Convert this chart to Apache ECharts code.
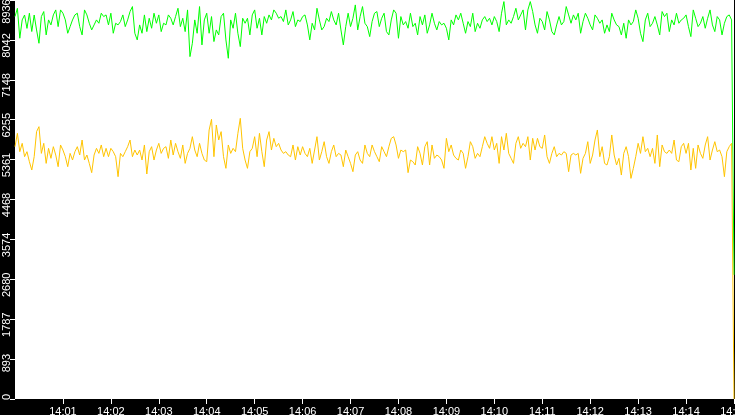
<!DOCTYPE html>
<html>
<head>
<meta charset="utf-8">
<script src="https://cdn.jsdelivr.net/npm/echarts@6.0.0/dist/echarts.min.js"></script>
<style>
html,body{margin:0;padding:0;background:#000;}
#chart{width:735px;height:415px;}
</style>
</head>
<body>
<div id="chart"></div>
<script>
// sample spacing in seconds from 14:00:00
var STEP = 3;
var xTickSeconds = [60,120,180,240,300,360,420,480,540,600,660,720,780,840,900];
var yMax = 8936;
var yInterval = 893.6;

var greenValues = [
8565,8750,8080,8490,8600,8300,8640,8230,8600,8265,
7967,8565,8677,8154,8490,8378,8602,8714,8340,8714,
8640,8490,8191,8340,8490,8602,8640,8340,8154,8714,
8602,8415,8266,8378,8490,8415,8640,8565,8602,8378,
8640,8191,8415,8378,8453,8602,8340,8490,8677,8789,
8191,8042,8378,8191,8602,8228,8527,8303,8640,8415,
8602,8228,8415,8378,8602,8527,8378,8565,8751,8340,
8527,8228,8714,7668,7967,8490,8191,8789,7930,8490,
8640,8191,8565,8005,8266,8154,8565,8640,8042,7631,
8490,8303,8640,8191,7892,8527,8415,8527,8154,8602,
8714,8303,8527,8154,8565,8415,8602,8490,8714,8640,
8527,8565,8453,8714,8378,8490,8677,8340,8490,8453,
8565,8602,8378,8042,8415,8266,8751,8490,8266,8340,
8527,8453,8677,8490,8378,8640,8266,7930,8340,8640,
8340,8527,8826,8266,8565,8789,8415,8340,8116,8453,
8640,8677,8340,8527,8640,8228,8154,8490,8714,8640,
8079,8565,8378,8453,8303,8640,8340,8415,8154,8565,
8378,8602,8191,8378,8640,8415,8266,8453,8378,8415,
8303,8042,8490,8378,8602,8490,8640,8415,8191,8453,
8340,8640,8228,8415,8303,8490,8565,8453,8527,8378,
8565,8453,8228,8640,8900,8378,8490,8415,8565,8751,
8490,8602,8714,8266,8714,8900,8677,8378,8191,8527,
8453,8266,8677,8490,8228,8154,8378,8565,8378,8453,
8789,8602,8415,8602,8490,8640,8191,8453,8640,8527,
8378,8266,8602,8527,8415,8490,8191,8378,8228,8640,
8490,8378,8340,8154,8415,8079,8490,8378,8453,8714,
8527,8191,8004,8490,8640,8340,8415,8565,8378,8154,
8677,8565,8640,8228,8490,8378,8640,8415,8490,8527,
8602,8340,8116,8714,8527,8340,8415,8565,8303,8527,
8714,8378,8228,8565,8490,8154,8415,8565,8602,8490,
2780
];

var yellowValues = [
5651,5950,5539,5726,5427,5539,5315,5128,5427,5988,
6099,5501,5726,5277,5614,5390,5651,5464,5203,5689,
5576,5427,5203,5501,5352,5539,5651,5464,5800,5352,
5464,5277,5069,5464,5614,5501,5689,5427,5614,5427,
5614,5539,5427,4979,5501,5427,5539,5651,5800,5427,
5576,5464,5576,5352,5689,5039,5539,5651,5352,5576,
5726,5501,5614,5651,5390,5800,5464,5726,5539,5390,
5689,5277,5501,5614,5875,5576,5427,5726,5501,5352,
5315,6025,6264,5427,6137,5800,5988,5427,5166,5689,
5501,5614,5539,5950,6286,5614,5352,5166,5539,5614,
5875,5427,5950,5539,5203,5800,5988,5576,5838,5651,
5726,5576,5501,5539,5464,5427,5689,5352,5651,5464,
5651,5501,5427,5614,5277,5576,5875,5352,5539,5763,
5427,5277,5539,5689,5427,5501,5464,5203,5576,5427,
5277,5091,5464,5539,5352,5277,5689,5501,5427,5689,
5539,5427,5315,5651,5539,5427,5651,5838,5875,5689,
5390,5576,5539,5576,5069,5352,5315,5240,5651,5501,
5240,5651,5763,5240,5689,5390,5464,5427,5352,5166,
5838,5539,5689,5464,5390,5352,5576,5501,5166,5427,
5763,5651,5390,5501,5427,5651,5875,5726,5614,5875,
5576,5726,5277,5875,5576,5950,5501,5390,5277,5726,
5875,5614,5726,5651,5875,5352,5838,5576,5838,5651,
5614,5913,5427,5277,5501,5651,5427,5501,5464,5539,
5501,5091,5464,5501,5464,5501,5054,5390,5501,5763,
5277,5464,5800,6025,5427,5651,5277,5240,5427,5913,
5464,5240,5390,5016,5501,5651,5427,4941,5166,5427,
5726,5501,5875,5539,5614,5427,5614,5277,5913,5203,
5689,5539,5501,5576,5501,5800,5352,5315,5651,5726,
5501,5726,5128,5614,5166,5689,5501,5390,5689,5875,
5352,5576,5763,5539,5576,5427,4979,5539,5651,5726,
0
];

function pairs(vals){ return vals.map(function(v,i){ return [i*STEP, v]; }); }
function pad2(n){ return (n<10?'0':'')+n; }

var FONT = '"Liberation Sans", Arial, sans-serif';
var chart = echarts.init(document.getElementById('chart'), null, {renderer:'canvas'});
chart.setOption({
  animation:false,
  backgroundColor:'#000',
  grid:{left:15,right:1,top:0,bottom:16,show:true,backgroundColor:'#fff',borderWidth:0,containLabel:false,outerBoundsMode:'none'},
  xAxis:{
    type:'value',min:0,max:900,interval:60,
    axisLine:{show:false},
    splitLine:{show:false},
    axisTick:{show:true,length:5,lineStyle:{color:'#fff',width:1},customValues:xTickSeconds},
    axisLabel:{
      customValues:xTickSeconds,
      color:'#fff',fontSize:11,fontFamily:FONT,margin:7,
      formatter:function(v){ return '14:'+pad2(Math.round(v/60)); }
    }
  },
  yAxis:{
    type:'value',min:0,max:yMax,interval:yInterval,
    axisLine:{show:false},
    splitLine:{show:false},
    axisTick:{show:true,length:5,lineStyle:{color:'#fff',width:1}},
    axisLabel:{
      rotate:90,margin:3,color:'#fff',fontSize:11,fontFamily:FONT,
      formatter:function(v){
        var s=String(Math.floor(v+1e-6));
        if (Math.abs(v-yMax)<1e-6) return '{top|'+s+'}';
        return '{d'+s.length+'|'+s+'}';
      },
      rich:{
        d1:{color:'#fff',fontSize:11,fontFamily:FONT,padding:[0,0,0,4]},
        d3:{color:'#fff',fontSize:11,fontFamily:FONT,padding:[0,8,0,0]},
        d4:{color:'#fff',fontSize:11,fontFamily:FONT,padding:[0,11,0,0]},
        top:{color:'#fff',fontSize:11,fontFamily:FONT,padding:[0,23,0,0]}
      }
    }
  },
  series:[
    {type:'line',data:pairs(greenValues),showSymbol:false,symbol:'none',sampling:'none',
     lineStyle:{color:'#00ff00',width:1},itemStyle:{color:'#00ff00'}},
    {type:'line',data:pairs(yellowValues),showSymbol:false,symbol:'none',sampling:'none',
     lineStyle:{color:'#ffc400',width:1},itemStyle:{color:'#ffc400'}}
  ]
});
</script>
</body>
</html>
